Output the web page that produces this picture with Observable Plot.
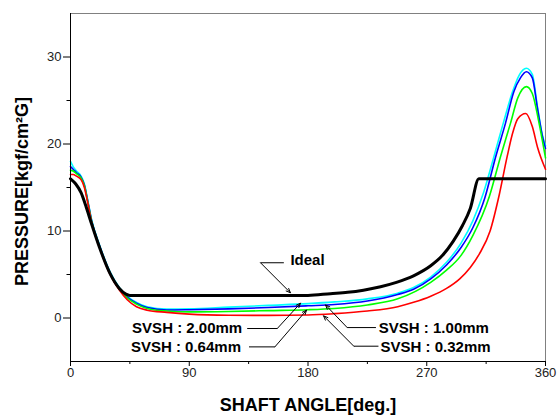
<!DOCTYPE html>
<html><head><meta charset="utf-8">
<script src="https://cdn.jsdelivr.net/npm/d3@7"></script>
<script src="https://cdn.jsdelivr.net/npm/@observablehq/plot@0.6"></script>
<style>body{margin:0;background:#fff} svg{display:block}</style>
</head><body><div id="chart"></div>
<script>
// Ideal pressure curve
const idealAngle = [0,4,8,12,16,22,30,37,42,45,100,180,197,210,222,235,247,260,273,282,290,297,303,309.5,360];
const idealP     = [16,15.4,14.4,12.7,10.8,8.1,5.1,3.4,2.75,2.6,2.6,2.6,2.8,2.95,3.2,3.6,4.1,4.85,6.0,7.2,8.8,10.6,12.6,16,16];

// SVSH 2.00mm (cyan)
const svsh200Angle = [0,2,4.5,8,10.5,13,16,22,30,37,43,50,58,73,90,120,150,180,200,225,248,260,273,285,296,305,313,321,328,335,340,345.5,350,354,357.5,360];
const svsh200P     = [18.0,17.4,16.9,16.3,15.4,13.6,11.3,8.4,5.3,3.5,2.5,1.8,1.3,1.02,1.05,1.25,1.45,1.65,1.85,2.2,2.85,3.5,4.7,6.4,8.6,11.2,14.4,18.6,22.4,26.0,27.9,28.7,28.0,24.2,21.1,19.8];

// SVSH 1.00mm (blue)
const svsh100Angle = [0,2,4.5,8,10.5,13,16,22,30,37,43,50,58,73,90,120,150,180,200,225,248,260,273,285,296,305,314,322,329.7,336,341,345.5,350,354,357.5,360];
const svsh100P     = [17.4,17.1,16.7,16.2,15.3,13.5,11.2,8.3,5.2,3.4,2.4,1.7,1.2,0.92,0.95,1.05,1.2,1.4,1.55,1.95,2.7,3.3,4.5,6.1,8.1,10.4,13.8,18.4,22.4,26.0,27.6,28.3,27.6,24.0,21.0,19.5];

// SVSH 0.64mm (green)
const svsh064Angle = [0,2,4.5,8,10.5,13,16,22,30,37,43,50,58,73,90,120,150,180,200,225,248,273,285,296,305,317.5,326,333.5,339,345.5,350,355,360];
const svsh064P     = [17.0,16.9,16.6,16.1,15.2,13.4,11.1,8.2,5.1,3.3,2.3,1.6,1.1,0.8,0.7,0.75,0.85,0.95,1.1,1.5,2.2,4.1,5.5,7.2,9.5,14.0,18.6,22.4,25.3,26.6,25.8,22.5,18.4];

// SVSH 0.32mm (red)
const svsh032Angle = [0,2,4.5,8,10.5,13,16,22,30,37,43,50,58,73,90,120,150,180,200,225,248,260,273,285,295,303,310,318,325,331,335,339,345,350,354,360];
const svsh032P     = [16.5,16.5,16.3,15.9,15.0,13.3,11.0,8.1,5.0,3.2,2.1,1.3,0.9,0.65,0.45,0.32,0.3,0.35,0.5,0.8,1.3,1.8,2.5,3.4,4.5,5.8,7.4,10.0,14.2,18.6,21.2,22.9,23.5,22.0,19.6,17.1];

// Axis ticks
const xMajor = [0,90,180,270,360];
const xMinor = [45,135,225,315];
const yMajor = [0,10,20,30];
const yMinor = [5,15,25];

// Annotation labels
const labelText   = ["Ideal","SVSH : 2.00mm","SVSH : 0.64mm","SVSH : 1.00mm","SVSH : 0.32mm"];
const labelAngle  = [166.7,130.1,129.2,233.7,235];
const labelP      = [6.7,-1.21,-3.32,-1.21,-3.32];
const labelAnchor = ["start","end","end","start","start"];
// Leader lines: horizontal part (from elbow to label side) and arrow (from elbow to curve)
const elbowAngle  = [144,156.7,154.9,209.7,214.7];
const elbowP      = [6.35,-1.21,-3.32,-1.1,-3.24];
const sideAngle   = [161.7,133.9,135.3,231.5,233.4];
const tipAngle    = [166.7,174.3,178.9,193.3,191.8];
const tipP        = [2.9,1.7,0.9,1.5,0.25];

const mk = (a, p) => a.map((x, i) => ({angle: x, p: p[i]}));
const ideal = mk(idealAngle, idealP);
const s200 = mk(svsh200Angle, svsh200P);
const s100 = mk(svsh100Angle, svsh100P);
const s064 = mk(svsh064Angle, svsh064P);
const s032 = mk(svsh032Angle, svsh032P);
const labels = labelText.map((t, i) => ({t, a: labelAngle[i], p: labelP[i], anchor: labelAnchor[i]}));
const leaders = labelText.map((t, i) => ({ea: elbowAngle[i], ep: elbowP[i], sa: sideAngle[i], ta: tipAngle[i], tp: tipP[i]}));

const line = (data, stroke, sw) => Plot.line(data, {x: "angle", y: "p", stroke, strokeWidth: sw, curve: "monotone-x"});

const chart = Plot.plot({
  width: 558, height: 418,
  marginLeft: 70, marginRight: 13, marginTop: 13, marginBottom: 57,
  x: {domain: [0, 360]},
  y: {domain: [-5, 35]},
  style: {fontFamily: "'Liberation Sans', Arial, sans-serif", background: "#fff", color: "#222"},
  marks: [
    Plot.frame({stroke: "#808080"}),
    line(s200, "#00ffff", 1.6),
    line(s100, "#0000ff", 1.6),
    line(s064, "#00ff00", 1.6),
    line(s032, "#ff0000", 1.6),
    line(ideal, "#000", 3),
    Plot.ruleX([0], {stroke: "#000"}),
    Plot.ruleY([-5], {stroke: "#000"}),
    Plot.axisX({ticks: xMajor, tickSize: 5, tickPadding: 1, fontSize: 13, label: null, stroke: "#000"}),
    Plot.axisX({ticks: xMinor, tickSize: 3, text: null, label: null, stroke: "#000"}),
    Plot.axisY({ticks: yMajor, tickSize: 7, tickPadding: 2, fontSize: 13, label: null, stroke: "#000"}),
    Plot.axisY({ticks: yMinor, tickSize: 3.5, text: null, label: null, stroke: "#000"}),
    Plot.link(leaders, {x1: "ea", y1: "ep", x2: "sa", y2: "ep", stroke: "#000", strokeWidth: 1}),
    Plot.arrow(leaders, {x1: "ea", y1: "ep", x2: "ta", y2: "tp", stroke: "#000", strokeWidth: 1, headLength: 7, headAngle: 45}),
    Plot.text(labels.filter(d => d.anchor === "start"), {x: "a", y: "p", text: "t", textAnchor: "start", fontSize: 15, fontWeight: "bold", fill: "#000"}),
    Plot.text(labels.filter(d => d.anchor === "end"), {x: "a", y: "p", text: "t", textAnchor: "end", fontSize: 15, fontWeight: "bold", fill: "#000"}),
    Plot.text(["SHAFT ANGLE[deg.]"], {frameAnchor: "bottom", textAnchor: "middle", lineAnchor: "middle", dy: 44, fontSize: 18, fontWeight: "bold", fill: "#000"}),
    Plot.text(["PRESSURE[kgf/cm²G]"], {frameAnchor: "left", textAnchor: "middle", lineAnchor: "middle", dx: -48, dy: 4, rotate: -90, fontSize: 18, fontWeight: "bold", fill: "#000"})
  ]
});
document.getElementById("chart").appendChild(chart);
</script>
</body></html>
